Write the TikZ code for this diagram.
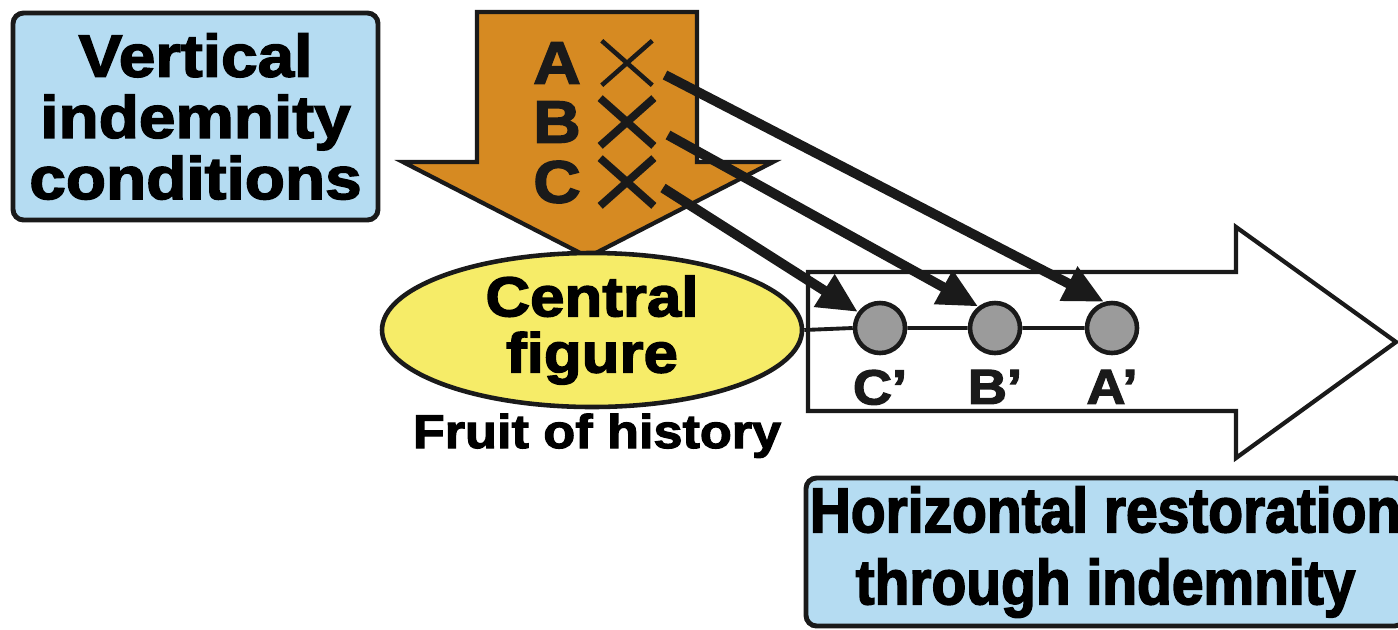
\documentclass[tikz,border=0pt]{standalone}
\usepackage{fontspec}
\usepackage{tikz}
\usetikzlibrary{positioning,arrows.meta,shapes.geometric,shapes.misc}
\newfontfamily\heavywide{Liberation Sans}[UprightFont={* Bold},UprightFeatures={FakeBold=2.5,FakeStretch=1.1}]
\newfontfamily\heavycond{Liberation Sans}[UprightFont={* Bold},UprightFeatures={FakeBold=2.5,FakeStretch=0.9}]
\definecolor{cblue}{HTML}{B5DCF2}
\definecolor{corange}{HTML}{D68A22}
\definecolor{cyellow}{HTML}{F6EC68}
\definecolor{cgray}{HTML}{9B9B9B}
\definecolor{cink}{HTML}{1A1A1A}

\begin{document}
\begin{tikzpicture}[
  bluebox/.style={draw=cink,fill=cblue,line width=1.4pt,rounded corners=3pt,align=center,inner sep=0pt},
  xmark/.style={cross out,draw=cink,line width=2.2pt,minimum width=0.46cm,minimum height=0.4cm,inner sep=0pt},
  dot/.style={circle,draw=cink,fill=cgray,line width=1.3pt,minimum size=0.5cm,inner sep=0pt},
  letter/.style={font=\heavywide\fontsize{17}{17}\selectfont,text=cink,inner sep=0pt},
  prime/.style={font=\heavywide\fontsize{14}{14}\selectfont,text=cink,inner sep=0pt},
  link/.style={draw=cink,line width=2.8pt,-{Triangle[length=0.4cm,width=0.36cm]}}]
  \useasboundingbox (0,0) rectangle (13.98,-6.29);

  % horizontal arrow
  \draw[draw=cink,fill=white,line width=1.2pt,line join=miter]
    (8.08,-2.72) -- (12.36,-2.72) -- (12.36,-2.27) -- (13.96,-3.42)
    -- (12.36,-4.58) -- (12.36,-4.11) -- (8.08,-4.11) -- cycle;

  % vertical arrow
  \draw[draw=cink,fill=corange,line width=1.2pt,line join=miter]
    (4.77,-0.12) -- (6.97,-0.12) -- (6.97,-1.62) -- (7.73,-1.62)
    -- (5.88,-2.57) -- (4.03,-1.62) -- (4.77,-1.62) -- cycle;

  \node[bluebox,minimum width=3.65cm,minimum height=2.07cm,
    font=\heavywide\fontsize{17}{17.4}\selectfont] (vert) at (1.955,-1.165)
    {Vertical\\indemnity\\conditions};

  \node[letter] (la) at (5.57,-0.63) {A};
  \node[letter] (lb) at (5.57,-1.22) {B};
  \node[letter] (lc) at (5.57,-1.82) {C};
  \node[xmark,line width=1.3pt] (xa) at (6.27,-0.63) {};
  \node[xmark] (xb) at (6.27,-1.22) {};
  \node[xmark] (xc) at (6.27,-1.82) {};

  \node[ellipse,draw=cink,fill=cyellow,line width=1.3pt,minimum width=4.2cm,
    minimum height=1.32cm,inner sep=0pt,align=center,
    font=\heavywide\fontsize{16}{16}\selectfont] (cf) at (5.92,-3.30)
    {Central\\figure};
  \node[font=\heavywide\fontsize{13.5}{13.5}\selectfont,anchor=base] (fruit)
    at (5.97,-4.48) {Fruit of history};

  \node[dot] (cp) at (8.80,-3.28) {};
  \node[dot] (bp) at (9.95,-3.28) {};
  \node[dot] (ap) at (11.12,-3.28) {};
  \draw[cink,line width=1.1pt] (cf.east) -- (cp.west) (cp.east) -- (bp.west)
    (bp.east) -- (ap.west);
  \node[prime,below=0.14cm of cp] (cpl) {C’};
  \node[prime,below=0.14cm of bp] (bpl) {B’};
  \node[prime,below=0.14cm of ap] (apl) {A’};

  \coordinate (sa) at ([shift={(0.38,-0.12)}]xa.center);
  \coordinate (sb) at ([shift={(0.41,-0.13)}]xb.center);
  \coordinate (sc) at ([shift={(0.36,-0.06)}]xc.center);
  \draw[link] (sa) -- (ap.107);
  \draw[link] (sb) -- (bp.128);
  \draw[link] (sc) -- (cp.144);

  \node[bluebox,minimum width=5.99cm,minimum height=1.48cm,
    font=\heavycond\fontsize{18}{20.5}\selectfont] (horiz) at (11.055,-5.52)
    {Horizontal restoration\\through indemnity};
\end{tikzpicture}
\end{document}
